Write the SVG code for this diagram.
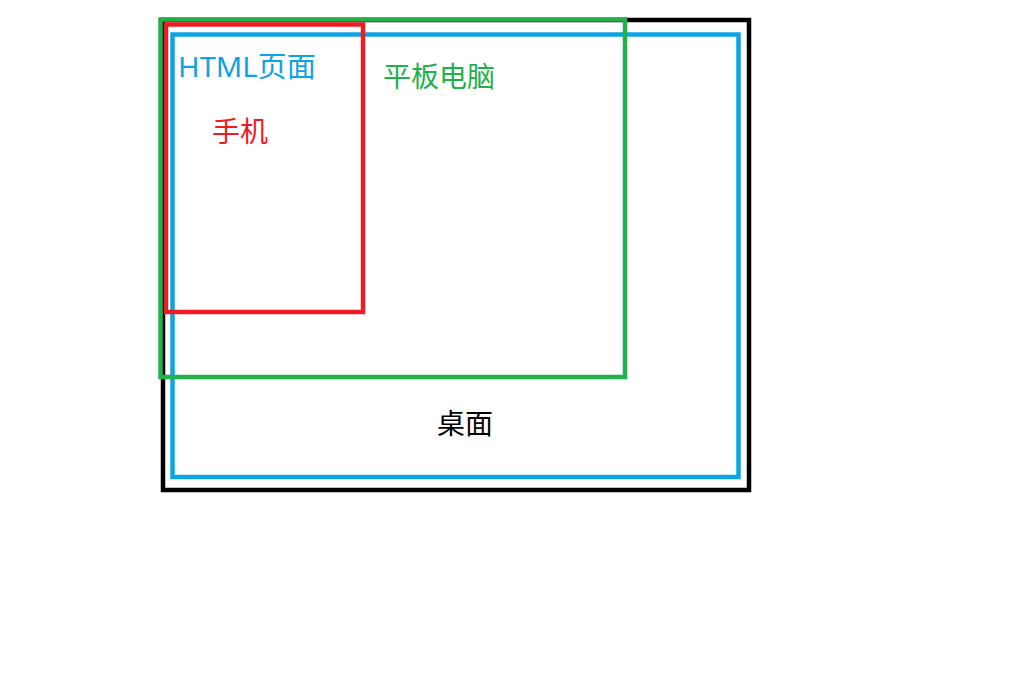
<svg xmlns="http://www.w3.org/2000/svg" width="1024" height="680" viewBox="0 0 1024 680">
<style>
.box{fill:none;stroke-width:4.5}
.lbl{font-family:"Noto Sans","Noto Sans CJK SC",sans-serif;font-size:28px}
</style>
<rect width="1024" height="680" fill="#ffffff"/>
<g id="desktop">
<rect class="box" x="163" y="20" width="586" height="470" stroke="#000000"/>
<text class="lbl" x="437" y="434" fill="#000000">桌面</text>
</g>
<g id="html-page">
<rect class="box" x="172.5" y="34.5" width="566" height="442.5" stroke="#0ea3e2"/>
<text class="lbl" x="178" y="77" fill="#0ea3e2" textLength="138" lengthAdjust="spacingAndGlyphs">HTML页面</text>
</g>
<g id="tablet">
<rect class="box" x="160.5" y="19.5" width="464.5" height="357.5" stroke="#22b04b"/>
<text class="lbl" x="383" y="87" fill="#22b04b">平板电脑</text>
</g>
<g id="phone">
<rect class="box" x="166" y="24.5" width="197" height="287.5" stroke="#ec1c24"/>
<text class="lbl" x="212" y="142" fill="#ec1c24">手机</text>
</g>
<g id="connectors"></g>
</svg>
